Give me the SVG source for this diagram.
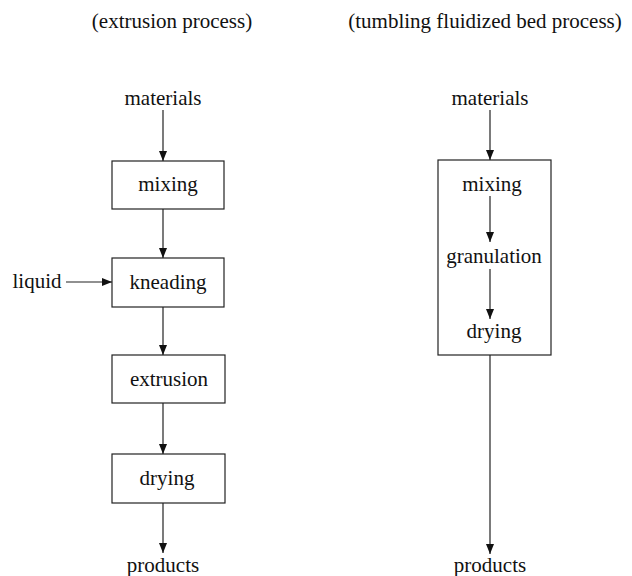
<svg xmlns="http://www.w3.org/2000/svg" width="632" height="576" viewBox="0 0 632 576">
<style>
text{font-family:"Liberation Serif","Times New Roman",serif;font-size:21px;fill:#111;text-anchor:middle}
.box{fill:#fff;stroke:#222;stroke-width:1.2}
.c{stroke:#222;stroke-width:1.2;fill:none;marker-end:url(#ah)}
</style>
<defs>
<marker id="ah" viewBox="0 0 10 8" refX="10" refY="4" markerWidth="10" markerHeight="8" markerUnits="userSpaceOnUse" orient="auto">
<path d="M0,0 L10,4 L0,8 Z" fill="#111"/>
</marker>
</defs>
<rect width="632" height="576" fill="#fff"/>
<g id="titles">
<text x="172" y="28">(extrusion process)</text>
<text x="485" y="28">(tumbling fluidized bed process)</text>
</g>
<g id="materials-left"><text x="163" y="105">materials</text></g>
<g id="mixing-left"><rect class="box" x="112" y="161" width="112" height="48"/><text x="168" y="191">mixing</text></g>
<g id="liquid"><text x="37" y="288">liquid</text></g>
<g id="kneading"><rect class="box" x="112" y="258" width="112" height="49"/><text x="168" y="289">kneading</text></g>
<g id="extrusion"><rect class="box" x="112" y="355" width="113" height="48"/><text x="169" y="386">extrusion</text></g>
<g id="drying-left"><rect class="box" x="112" y="454" width="113" height="49"/><text x="167" y="485">drying</text></g>
<g id="products-left"><text x="163" y="572">products</text></g>
<g id="materials-right"><text x="490" y="105">materials</text></g>
<g id="tumbling-box"><rect class="box" x="438" y="160" width="113" height="195"/></g>
<g id="mixing-right"><text x="492" y="191">mixing</text></g>
<g id="granulation"><text x="494" y="263">granulation</text></g>
<g id="drying-right"><text x="494" y="338">drying</text></g>
<g id="products-right"><text x="490" y="572">products</text></g>
<g id="connectors">
<line class="c" x1="163" y1="110" x2="163" y2="161"/>
<line class="c" x1="163" y1="209" x2="163" y2="258"/>
<line class="c" x1="66" y1="282" x2="112" y2="282"/>
<line class="c" x1="163" y1="307" x2="163" y2="355"/>
<line class="c" x1="163" y1="403" x2="163" y2="454"/>
<line class="c" x1="163" y1="503" x2="163" y2="553"/>
<line class="c" x1="490" y1="110" x2="490" y2="160"/>
<line class="c" x1="490" y1="196" x2="490" y2="242"/>
<line class="c" x1="490" y1="269" x2="490" y2="319"/>
<line class="c" x1="490" y1="355" x2="490" y2="554"/>
</g>
</svg>
